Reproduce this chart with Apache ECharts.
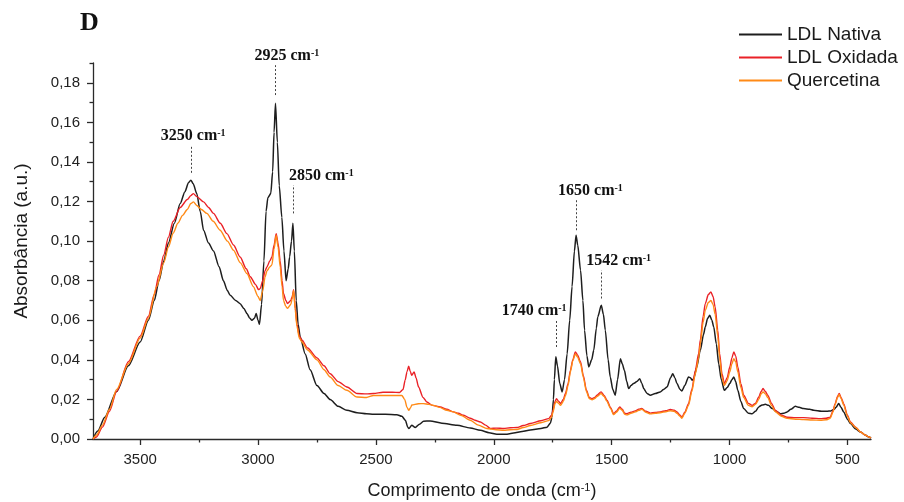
<!DOCTYPE html>
<html>
<head>
<meta charset="utf-8">
<script src="https://cdn.jsdelivr.net/npm/echarts@6/dist/echarts.min.js"></script>
<style>
  html, body { margin: 0; padding: 0; background: #fff; }
  #lineChart { width: 904px; height: 502px; }
</style>
</head>
<body>
<div id="lineChart"></div>
<script>
// tick values
const xTicks = [500, 1000, 1500, 2000, 2500, 3000, 3500]
const xMinorTicks = [750, 1250, 1750, 2250, 2750, 3250]
const yTicks = [0, 0.02, 0.04, 0.06, 0.08, 0.1, 0.12, 0.14, 0.16, 0.18]
const yMinorTicks = [0.01, 0.03, 0.05, 0.07, 0.09, 0.11, 0.13, 0.15, 0.17, 0.19]

const seriesNames = ['LDL Nativa', 'LDL Oxidada', 'Quercetina']

// LDL Nativa
const nativaWave = [3700, 3680, 3650, 3600, 3550, 3500, 3465, 3440, 3420, 3400, 3380, 3355, 3330, 3310, 3295, 3285, 3275, 3260, 3245, 3231, 3210, 3189, 3165, 3147, 3130, 3118, 3095, 3076, 3060, 3047, 3035, 3026, 3015, 3008, 3000, 2994, 2985, 2975, 2966, 2958, 2946, 2938, 2932, 2926, 2918, 2910, 2899, 2890, 2881, 2872, 2866, 2858, 2852, 2846, 2838, 2830, 2821, 2800, 2779, 2750, 2720, 2694, 2660, 2623, 2580, 2540, 2510, 2460, 2411, 2390, 2375, 2365, 2360, 2348, 2333, 2315, 2298, 2270, 2220, 2156, 2100, 2057, 2020, 1987, 1950, 1916, 1880, 1845, 1800, 1774, 1760, 1753, 1747, 1743, 1737, 1730, 1720, 1710, 1700, 1689, 1678, 1668, 1658, 1651, 1644, 1632, 1622, 1615, 1605, 1597, 1585, 1576, 1565, 1559, 1544, 1535, 1527, 1515, 1506, 1495, 1485, 1475, 1463, 1455, 1446, 1436, 1428, 1418, 1407, 1393, 1381, 1372, 1364, 1350, 1336, 1315, 1294, 1280, 1265, 1250, 1241, 1232, 1223, 1210, 1202, 1190, 1174, 1166, 1159, 1152, 1140, 1124, 1110, 1103, 1093, 1084, 1075, 1067, 1056, 1046, 1035, 1022, 1010, 999, 990, 982, 974, 965, 952, 940, 920, 904, 890, 876, 862, 848, 835, 819, 800, 784, 770, 756, 740, 721, 705, 686, 660, 643, 610, 587, 570, 558, 548, 537, 527, 516, 500, 487, 465, 444, 425, 409, 400]
const nativaAbs = [0.000, 0.004, 0.011, 0.024, 0.037, 0.049, 0.060, 0.070, 0.080, 0.090, 0.099, 0.109, 0.119, 0.125, 0.1295, 0.1308, 0.129, 0.124, 0.115, 0.1055, 0.099, 0.095, 0.087, 0.080, 0.075, 0.0726, 0.070, 0.0684, 0.066, 0.0634, 0.061, 0.060, 0.061, 0.0634, 0.060, 0.058, 0.068, 0.090, 0.115, 0.122, 0.124, 0.135, 0.155, 0.1696, 0.150, 0.128, 0.112, 0.095, 0.080, 0.086, 0.092, 0.100, 0.109, 0.095, 0.070, 0.058, 0.0516, 0.043, 0.035, 0.027, 0.023, 0.0199, 0.0165, 0.0145, 0.0133, 0.0128, 0.0125, 0.0125, 0.0123, 0.0115, 0.0095, 0.006, 0.0053, 0.0069, 0.0058, 0.0075, 0.009, 0.0091, 0.008, 0.0069, 0.0056, 0.0044, 0.0032, 0.0024, 0.0024, 0.003, 0.0038, 0.0046, 0.0053, 0.006, 0.008, 0.011, 0.020, 0.030, 0.0415, 0.037, 0.028, 0.0238, 0.030, 0.043, 0.060, 0.077, 0.095, 0.103, 0.098, 0.0853, 0.070, 0.055, 0.042, 0.0364, 0.040, 0.0448, 0.056, 0.0617, 0.0676, 0.063, 0.055, 0.040, 0.0313, 0.025, 0.0221, 0.030, 0.0406, 0.038, 0.0347, 0.029, 0.0255, 0.027, 0.028, 0.029, 0.0305, 0.028, 0.0255, 0.023, 0.0221, 0.023, 0.0238, 0.025, 0.0263, 0.031, 0.033, 0.031, 0.028, 0.025, 0.0243, 0.027, 0.0313, 0.031, 0.0297, 0.0305, 0.036, 0.0448, 0.053, 0.0566, 0.061, 0.0625, 0.060, 0.0566, 0.048, 0.038, 0.030, 0.0246, 0.026, 0.028, 0.030, 0.0313, 0.029, 0.0246, 0.019, 0.0154, 0.013, 0.0128, 0.014, 0.0162, 0.0172, 0.0175, 0.017, 0.0154, 0.0138, 0.0128, 0.013, 0.0137, 0.015, 0.0165, 0.016, 0.0154, 0.015, 0.0145, 0.014, 0.014, 0.0142, 0.0149, 0.016, 0.0179, 0.016, 0.0137, 0.010, 0.0078, 0.005, 0.0035, 0.002, 0.001, 0.0005]

// LDL Oxidada
const oxidadaWave = [3700, 3685, 3660, 3630, 3600, 3550, 3500, 3465, 3440, 3420, 3400, 3380, 3360, 3330, 3300, 3285, 3274, 3260, 3231, 3210, 3189, 3160, 3132, 3104, 3076, 3050, 3033, 3010, 2998, 2991, 2980, 2970, 2962, 2950, 2941, 2932, 2923, 2915, 2906, 2898, 2892, 2882, 2875, 2861, 2855, 2849, 2842, 2835, 2825, 2814, 2790, 2750, 2720, 2694, 2660, 2623, 2580, 2540, 2510, 2470, 2430, 2400, 2385, 2376, 2368, 2361, 2354, 2348, 2338, 2330, 2319, 2300, 2284, 2260, 2227, 2200, 2171, 2150, 2128, 2100, 2080, 2057, 2035, 2015, 1990, 1958, 1930, 1902, 1875, 1845, 1800, 1767, 1755, 1749, 1740, 1734, 1725, 1717, 1705, 1696, 1685, 1675, 1665, 1654, 1645, 1632, 1620, 1607, 1595, 1583, 1572, 1562, 1545, 1532, 1520, 1505, 1492, 1480, 1466, 1455, 1445, 1435, 1418, 1400, 1385, 1372, 1355, 1336, 1315, 1294, 1270, 1251, 1235, 1223, 1210, 1202, 1190, 1174, 1160, 1145, 1131, 1124, 1112, 1103, 1090, 1079, 1070, 1061, 1050, 1042, 1032, 1022, 1010, 999, 990, 982, 974, 965, 952, 940, 920, 904, 890, 876, 866, 858, 848, 838, 822, 806, 780, 756, 720, 686, 650, 615, 590, 573, 562, 552, 542, 535, 527, 516, 500, 487, 465, 444, 425, 409, 400]
const oxidadaAbs = [0.000, 0.001, 0.006, 0.014, 0.024, 0.039, 0.052, 0.062, 0.073, 0.083, 0.093, 0.102, 0.110, 0.117, 0.121, 0.123, 0.124, 0.1225, 0.1198, 0.117, 0.114, 0.109, 0.1038, 0.098, 0.092, 0.086, 0.082, 0.078, 0.0755, 0.076, 0.080, 0.085, 0.087, 0.090, 0.092, 0.098, 0.1038, 0.099, 0.090, 0.080, 0.0735, 0.070, 0.0685, 0.070, 0.072, 0.0755, 0.066, 0.058, 0.052, 0.050, 0.046, 0.041, 0.037, 0.033, 0.029, 0.0263, 0.023, 0.0228, 0.023, 0.0236, 0.0236, 0.0235, 0.025, 0.0297, 0.034, 0.0368, 0.034, 0.0322, 0.0339, 0.031, 0.0263, 0.021, 0.0187, 0.017, 0.0162, 0.015, 0.0137, 0.013, 0.012, 0.0105, 0.0095, 0.0086, 0.007, 0.0053, 0.0055, 0.0053, 0.0057, 0.0058, 0.0068, 0.0078, 0.0092, 0.0103, 0.012, 0.0145, 0.019, 0.0204, 0.019, 0.0179, 0.020, 0.023, 0.028, 0.0347, 0.040, 0.044, 0.0425, 0.039, 0.032, 0.0246, 0.021, 0.0204, 0.021, 0.0221, 0.0238, 0.022, 0.0196, 0.016, 0.0128, 0.014, 0.0162, 0.015, 0.013, 0.0128, 0.0135, 0.0142, 0.015, 0.0154, 0.014, 0.0131, 0.0134, 0.0137, 0.0143, 0.0149, 0.0145, 0.0137, 0.012, 0.011, 0.0135, 0.0179, 0.025, 0.0347, 0.0432, 0.050, 0.062, 0.0684, 0.073, 0.0743, 0.072, 0.0667, 0.055, 0.0432, 0.033, 0.028, 0.031, 0.0364, 0.041, 0.044, 0.042, 0.0364, 0.028, 0.0221, 0.018, 0.017, 0.018, 0.0212, 0.024, 0.0255, 0.024, 0.0221, 0.018, 0.0145, 0.012, 0.011, 0.0108, 0.0108, 0.0105, 0.0103, 0.0105, 0.011, 0.014, 0.0179, 0.0215, 0.023, 0.021, 0.0179, 0.012, 0.0086, 0.006, 0.0035, 0.002, 0.001, 0.0005]

// Quercetina
const quercetinaWave = [3700, 3685, 3660, 3630, 3600, 3550, 3500, 3465, 3430, 3400, 3380, 3360, 3340, 3320, 3300, 3285, 3274, 3260, 3240, 3217, 3190, 3161, 3130, 3104, 3075, 3047, 3020, 3000, 2991, 2980, 2970, 2962, 2950, 2941, 2932, 2923, 2915, 2906, 2898, 2892, 2882, 2875, 2861, 2855, 2849, 2842, 2835, 2825, 2814, 2790, 2750, 2720, 2694, 2660, 2623, 2580, 2540, 2510, 2470, 2430, 2390, 2378, 2368, 2361, 2352, 2348, 2320, 2298, 2275, 2256, 2230, 2199, 2171, 2140, 2100, 2065, 2029, 1990, 1958, 1930, 1902, 1875, 1845, 1800, 1767, 1755, 1749, 1740, 1734, 1725, 1717, 1705, 1696, 1685, 1675, 1665, 1654, 1645, 1632, 1620, 1607, 1595, 1583, 1572, 1562, 1545, 1532, 1520, 1505, 1492, 1480, 1466, 1455, 1445, 1435, 1418, 1400, 1385, 1372, 1355, 1336, 1315, 1294, 1270, 1251, 1235, 1223, 1210, 1202, 1190, 1174, 1160, 1145, 1131, 1124, 1112, 1103, 1090, 1079, 1070, 1061, 1050, 1042, 1032, 1022, 1010, 999, 990, 982, 974, 965, 952, 940, 920, 904, 890, 876, 866, 858, 848, 838, 822, 806, 780, 756, 720, 686, 650, 615, 590, 573, 562, 552, 542, 535, 527, 516, 500, 487, 465, 444, 425, 409, 400]
const quercetinaAbs = [0.000, 0.002, 0.007, 0.015, 0.025, 0.038, 0.051, 0.061, 0.077, 0.089, 0.097, 0.104, 0.109, 0.113, 0.116, 0.119, 0.1198, 0.118, 0.116, 0.114, 0.110, 0.1055, 0.100, 0.0954, 0.089, 0.0836, 0.077, 0.072, 0.070, 0.075, 0.082, 0.085, 0.087, 0.088, 0.096, 0.103, 0.097, 0.087, 0.077, 0.070, 0.067, 0.066, 0.068, 0.071, 0.075, 0.065, 0.057, 0.051, 0.049, 0.045, 0.040, 0.035, 0.0313, 0.027, 0.0246, 0.0212, 0.021, 0.022, 0.022, 0.022, 0.022, 0.020, 0.016, 0.0145, 0.016, 0.0172, 0.0178, 0.0179, 0.0175, 0.017, 0.016, 0.0145, 0.0137, 0.012, 0.0095, 0.007, 0.0053, 0.0047, 0.0044, 0.0047, 0.0048, 0.0058, 0.0068, 0.0082, 0.0093, 0.011, 0.0135, 0.018, 0.019, 0.018, 0.017, 0.019, 0.022, 0.027, 0.034, 0.0395, 0.043, 0.0415, 0.038, 0.031, 0.024, 0.0205, 0.0198, 0.0205, 0.0215, 0.023, 0.0215, 0.019, 0.0155, 0.0123, 0.0135, 0.0155, 0.0145, 0.0125, 0.0122, 0.013, 0.0137, 0.0145, 0.015, 0.0135, 0.0127, 0.013, 0.0133, 0.0138, 0.0143, 0.014, 0.013, 0.0115, 0.0105, 0.013, 0.017, 0.024, 0.033, 0.041, 0.048, 0.059, 0.065, 0.069, 0.070, 0.068, 0.063, 0.052, 0.041, 0.031, 0.027, 0.0295, 0.034, 0.038, 0.0406, 0.039, 0.034, 0.026, 0.021, 0.017, 0.0163, 0.0175, 0.020, 0.0228, 0.0238, 0.0228, 0.021, 0.017, 0.0138, 0.0115, 0.0104, 0.0100, 0.0098, 0.0096, 0.0095, 0.0097, 0.0105, 0.0135, 0.0175, 0.021, 0.0225, 0.0205, 0.0172, 0.0115, 0.0082, 0.0058, 0.0035, 0.002, 0.001, 0.0005]

// peak annotations: dotted line from peakLow to peakHigh at peakWave
const peakText = ['3250 cm', '2925 cm', '2850 cm', '1650 cm', '1542 cm', '1740 cm']
const peakWave = [3285, 2926, 2852, 1651, 1544, 1737]
const peakLow = [0.1345, 0.1738, 0.114, 0.1055, 0.071, 0.0465]
const peakHigh = [0.1485, 0.1889, 0.1283, 0.1207, 0.0853, 0.060]
// label shift from the top of each dotted line, px
const peakShift = [-30, -21, -4, -18, -15, -54]

const colors = ['#1e1e1e', '#ea2127', '#ff8a16']
const sans = '"Liberation Sans", Arial, sans-serif'
const serif = '"Liberation Serif", "Times New Roman", serif'

function pairs(xs, ys) {
  return xs.map((x, i) => [x, ys[i]])
}

const myChart = echarts.init(document.getElementById('lineChart'), null, { renderer: 'canvas' })

const axisColor = '#2a2a2a'

const chartOption = {
  animation: false,
  backgroundColor: '#fff',
  color: colors,
  title: {
    text: 'D',
    left: 75,
    top: 5,
    textStyle: { fontFamily: serif, fontWeight: 'bold', fontSize: 26, color: '#111' }
  },
  legend: {
    orient: 'vertical',
    left: 734,
    top: 20,
    icon: 'rect',
    itemWidth: 43,
    itemHeight: 2,
    itemGap: 4,
    data: seriesNames,
    textStyle: { fontFamily: sans, fontSize: 19, color: '#1a1a1a' }
  },
  grid: {
    left: 93,
    right: 33,
    top: 63,
    bottom: 63,
    containLabel: false,
    outerBoundsMode: 'none'
  },
  xAxis: [
    {
      type: 'value',
      min: 400,
      max: 3700,
      inverse: true,
      position: 'bottom',
      name: 'Comprimento de onda (cm{sup|-1})',
      nameLocation: 'middle',
      nameGap: 43,
      nameTextStyle: {
        fontFamily: sans,
        fontSize: 18,
        color: '#1a1a1a',
        rich: { sup: { fontFamily: sans, fontSize: 11, color: '#1a1a1a', verticalAlign: 'top' } }
      },
      axisLine: { show: true, lineStyle: { color: axisColor, width: 1.3 } },
      axisTick: { show: true, length: 6, customValues: xTicks, lineStyle: { color: axisColor, width: 1.3 } },
      axisLabel: {
        customValues: xTicks,
        margin: 13,
        fontFamily: sans,
        fontSize: 15,
        color: '#222',
        formatter: function (v) {
          return String(v)
        }
      },
      splitLine: { show: false }
    },
    {
      type: 'value',
      min: 400,
      max: 3700,
      inverse: true,
      position: 'bottom',
      axisLine: { show: false },
      axisTick: { show: true, length: 3.5, customValues: xMinorTicks, lineStyle: { color: axisColor, width: 1.3 } },
      axisLabel: { show: false },
      splitLine: { show: false }
    }
  ],
  yAxis: [
    {
      type: 'value',
      min: 0,
      max: 0.19,
      position: 'left',
      name: 'Absorbância (a.u.)',
      nameLocation: 'middle',
      nameGap: 62,
      nameTextStyle: { fontFamily: sans, fontSize: 19, color: '#1a1a1a', padding: [0, 0, 0, 20] },
      axisLine: { show: true, lineStyle: { color: axisColor, width: 1.3 } },
      axisTick: { show: true, length: 6, customValues: yTicks, lineStyle: { color: axisColor, width: 1.3 } },
      axisLabel: {
        customValues: yTicks,
        margin: 13,
        fontFamily: sans,
        fontSize: 15,
        color: '#222',
        formatter: function (v) {
          return v.toFixed(2).replace('.', ',')
        }
      },
      splitLine: { show: false }
    },
    {
      type: 'value',
      min: 0,
      max: 0.19,
      position: 'left',
      axisLine: { show: false },
      axisTick: { show: true, length: 3.5, customValues: yMinorTicks, lineStyle: { color: axisColor, width: 1.3 } },
      axisLabel: { show: false },
      splitLine: { show: false }
    }
  ],
  series: [
    {
      name: seriesNames[0],
      type: 'line',
      data: pairs(nativaWave, nativaAbs),
      symbol: 'none',
      smooth: 0.25,
      smoothMonotone: 'x',
      lineStyle: { width: 1.5, color: colors[0] },
      markLine: {
        silent: true,
        symbol: 'none',
        label: { show: false },
        lineStyle: { color: '#444', width: 1, type: [2, 2] },
        data: peakWave.map((w, i) => [{ coord: [w, peakLow[i]] }, { coord: [w, peakHigh[i]] }])
      }
    },
    {
      name: seriesNames[1],
      type: 'line',
      data: pairs(oxidadaWave, oxidadaAbs),
      symbol: 'none',
      smooth: 0.25,
      smoothMonotone: 'x',
      lineStyle: { width: 1.4, color: colors[1] }
    },
    {
      name: seriesNames[2],
      type: 'line',
      data: pairs(quercetinaWave, quercetinaAbs),
      symbol: 'none',
      smooth: 0.25,
      smoothMonotone: 'x',
      lineStyle: { width: 1.4, color: colors[2] }
    }
  ]
}

myChart.setOption(chartOption)

// peak labels, placed through the chart's own scales
const labels = peakWave.map((w, i) => {
  const p = myChart.convertToPixel({ xAxisIndex: 0, yAxisIndex: 0 }, [w, peakHigh[i]])
  return {
    type: 'text',
    x: p[0] + peakShift[i],
    y: p[1] - 9,
    silent: true,
    style: {
      text: '{b|' + peakText[i] + '}{s|-1}',
      verticalAlign: 'middle',
      rich: {
        b: { fontFamily: serif, fontWeight: 'bold', fontSize: 16, fill: '#111', color: '#111' },
        s: { fontFamily: serif, fontWeight: 'bold', fontSize: 10, fill: '#111', color: '#111', verticalAlign: 'top' }
      }
    }
  }
})
myChart.setOption({ graphic: labels })
</script>
</body>
</html>
